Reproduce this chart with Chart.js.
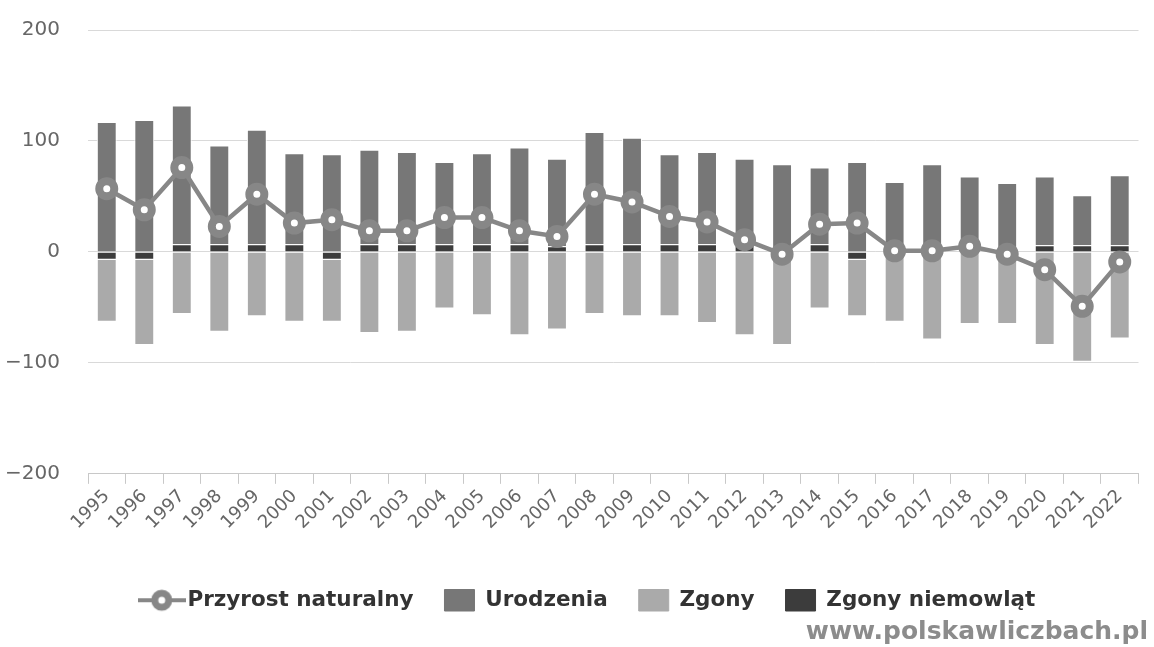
<html>
<head>
  <title>Przyrost naturalny</title>
  <script src="https://cdn.jsdelivr.net/npm/chart.js"></script>
  <style>
    body { margin: 0; background: #fff; }
    #ramka { position: relative; width: 1154px; height: 647px; }
    #adres { position: absolute; right: 6px; top: 616px; font: bold 25px "DejaVu Sans"; color: #8c8c8c; }
  </style>
</head>
<body>
  <div id="ramka">
    <canvas id="wykres"></canvas>
    <div id="adres">www.polskawliczbach.pl</div>
  </div>

  <script>
    const lata = ['1995', '1996', '1997', '1998', '1999', '2000', '2001', '2002', '2003', '2004',
      '2005', '2006', '2007', '2008', '2009', '2010', '2011', '2012', '2013', '2014',
      '2015', '2016', '2017', '2018', '2019', '2020', '2021', '2022'];
    const urodzenia = [117, 119, 125, 89, 103, 82, 88, 85, 83, 74, 82, 87, 79, 101, 96, 81, 83, 78, 79, 69,
      81, 63, 79, 68, 62, 62, 45, 63];
    const zgony = [-56, -77, -56, -72, -58, -63, -56, -73, -72, -51, -57, -75, -70, -56, -58, -58, -64, -75, -84, -51,
      -51, -63, -79, -65, -65, -84, -99, -78];
    const zgonyNiemowlat = [-7, -7, 7, 7, 7, 7, -7, 7, 7, 7, 7, 7, 5, 7, 7, 7, 7, 6, 0, 7,
      -7, 0, 0, 0, 0, 6, 6, 6];
    const przyrost = [57, 38, 76, 23, 52, 26, 29, 19, 19, 31, 31, 19, 14, 52, 45, 32, 27, 11, -2, 25,
      26, 1, 1, 5, -2, -16, -49, -9];
    const osY = [-200, -100, 0, 100, 200];

    const szaryLinia = '#878787';

    // znacznik linii do legendy (kółko z kreską)
    function znacznikLegendy() {
      const c = document.createElement('canvas');
      c.width = 48; c.height = 26;
      const g = c.getContext('2d');
      g.strokeStyle = szaryLinia;
      g.lineWidth = 4;
      g.beginPath(); g.moveTo(0, 13); g.lineTo(48, 13); g.stroke();
      g.beginPath(); g.arc(24, 13, 7, 0, Math.PI * 2);
      g.fillStyle = '#fff'; g.fill();
      g.lineWidth = 7; g.stroke();
      return c;
    }
    const ikonaLinii = znacznikLegendy();

    // legenda troche w prawo, jak na oryginale
    const przesunLegende = {
      id: 'przesunLegende',
      afterLayout(chart) {
        chart.legend.left += 18;
        chart.legend.right += 18;
      }
    };

    new Chart(document.getElementById('wykres'), {
      data: {
        labels: lata,
        datasets: [
          {
            type: 'line',
            label: 'Przyrost naturalny',
            data: przyrost,
            order: 0,
            stack: 'linia',
            borderColor: szaryLinia,
            borderWidth: 4.5,
            pointRadius: 7.5,
            pointBorderWidth: 8,
            pointBackgroundColor: '#fff',
            pointBorderColor: szaryLinia,
            tension: 0
          },
          {
            type: 'bar',
            label: 'Urodzenia',
            data: urodzenia,
            order: 2,
            stack: 'slupki',
            backgroundColor: '#777777',
            borderColor: '#fff',
            borderWidth: 1
          },
          {
            type: 'bar',
            label: 'Zgony',
            data: zgony,
            order: 3,
            stack: 'slupki',
            backgroundColor: '#aaaaaa',
            borderColor: '#fff',
            borderWidth: 1
          },
          {
            type: 'bar',
            label: 'Zgony niemowląt',
            data: zgonyNiemowlat,
            order: 1,
            stack: 'slupki',
            backgroundColor: '#3c3c3c',
            borderColor: '#fff',
            borderWidth: 1
          }
        ]
      },
      plugins: [przesunLegende],
      options: {
        responsive: true,
        maintainAspectRatio: false,
        animation: false,
        barPercentage: 0.53,
        categoryPercentage: 1,
        layout: { padding: { top: 30, right: 8, bottom: 26, left: 0 } },
        scales: {
          x: {
            stacked: true,
            grid: { display: true, drawOnChartArea: false, drawTicks: true, tickLength: 10, color: '#c8c8c8', offset: true },
            border: { display: true, color: '#c8c8c8' },
            ticks: {
              color: '#666',
              font: { family: 'DejaVu Sans', size: 18 },
              minRotation: 45,
              maxRotation: 45,
              autoSkip: false,
              padding: 2
            },
            afterFit: (skala) => { skala.height += 23; skala.paddingLeft = 0; }
          },
          y: {
            stacked: true,
            min: -200,
            max: 200,
            afterBuildTicks: (skala) => { skala.ticks = osY.map(v => ({ value: v })); },
            afterFit: (skala) => { skala.width = 88; skala.paddingTop = 0; skala.paddingBottom = 0; },
            grid: { color: '#d9d9d9', drawTicks: false },
            border: { display: false },
            ticks: {
              color: '#666',
              font: { family: 'DejaVu Sans', size: 20 },
              padding: 28,
              callback: (v) => v < 0 ? '\u2212' + Math.abs(v) : v
            }
          }
        },
        plugins: {
          tooltip: { enabled: false },
          legend: {
            position: 'bottom',
            labels: {
              usePointStyle: true,
              pointStyleWidth: 30,
              padding: 31,
              color: '#333',
              font: { family: 'DejaVu Sans', size: 21.5, weight: 'bold' },
              sort: (a, b) => a.datasetIndex - b.datasetIndex,
              generateLabels: (chart) => {
                const items = Chart.defaults.plugins.legend.labels.generateLabels(chart);
                items.forEach(it => {
                  it.pointStyle = it.datasetIndex === 0 ? ikonaLinii : 'rect';
                  if (it.datasetIndex !== 0) { it.strokeStyle = it.fillStyle; }
                });
                return items;
              }
            }
          }
        }
      }
    });
  </script>
</body>
</html>
